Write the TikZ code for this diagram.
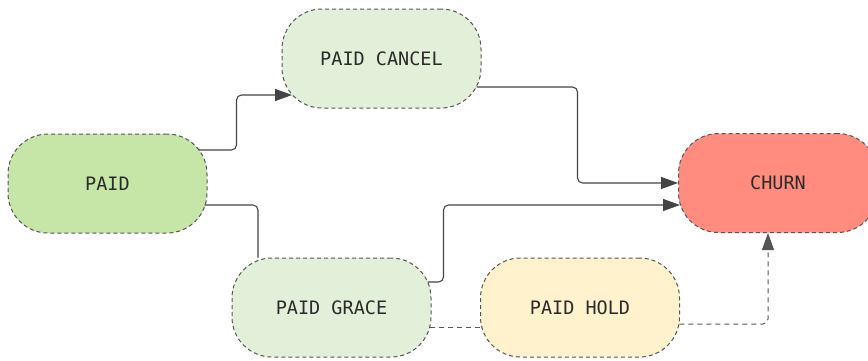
\documentclass[tikz,border=0pt]{standalone}
\usepackage{fontspec}
\setmonofont{DejaVu Sans Mono}
\usetikzlibrary{arrows.meta}
\definecolor{paidfill}{HTML}{C6E6A8}
\definecolor{palefill}{HTML}{E2F0D9}
\definecolor{churnfill}{HTML}{FF8C7E}
\definecolor{holdfill}{HTML}{FFF2CC}
\definecolor{rimgray}{HTML}{555555}
\definecolor{linegray}{HTML}{444444}
\definecolor{textgray}{HTML}{2B2B2B}
\tikzset{
  state/.style={draw=rimgray, dash pattern=on 4pt off 3pt, line width=1pt,
    rounded corners=40pt, minimum width=199pt, minimum height=99pt,
    font=\ttfamily\fontsize{18.5}{22}\selectfont, text=textgray},
  flow/.style={draw=linegray, line width=1.1pt, rounded corners=5pt,
    -{Triangle[length=17pt,width=12pt]}},
  link/.style={draw=linegray, line width=1.1pt, rounded corners=5pt},
  softflow/.style={flow, draw=rimgray, line width=1pt, dash pattern=on 5pt off 4pt},
}
\begin{document}
\begin{tikzpicture}[x=1pt,y=1pt]
  \useasboundingbox (0,0) rectangle (868,360);
  % states
  \node[state, fill=paidfill] (paid) at (107.5,176.5) {PAID};
  \node[state, fill=palefill] (cancel) at (381.5,301.5) {PAID CANCEL};
  \node[state, fill=churnfill] (churn) at (778,177) {CHURN};
  \node[state, fill=palefill] (grace) at (331.5,52.5) {PAID GRACE};
  \node[state, fill=holdfill] (hold) at (580,52.5) {PAID HOLD};
  % transitions
  \draw[flow] ([shift={(-9,33.5)}]paid.east) -- ++(38,0)
    |- ([shift={(10.5,-36.5)}]cancel.west);
  \draw[link] ([shift={(-3,-21.5)}]paid.east) -| ([xshift=-73.5]grace.north);
  \draw[flow] ([shift={(-5,-28.5)}]cancel.east) -- ++(101,0) |- (churn.west);
  \draw[flow] ([shift={(-4,25.5)}]grace.east) -- ++(16,0)
    |- ([shift={(2,-22)}]churn.west);
  \draw[link, draw=rimgray, line width=1pt, dash pattern=on 5pt off 4pt]
    ([shift={(-1.3,-19.5)}]grace.east) -- ([shift={(1.3,-19.5)}]hold.west);
  \draw[softflow] ([shift={(-0.6,-16.5)}]hold.east) -| ([xshift=-10]churn.south);
\end{tikzpicture}
\end{document}
